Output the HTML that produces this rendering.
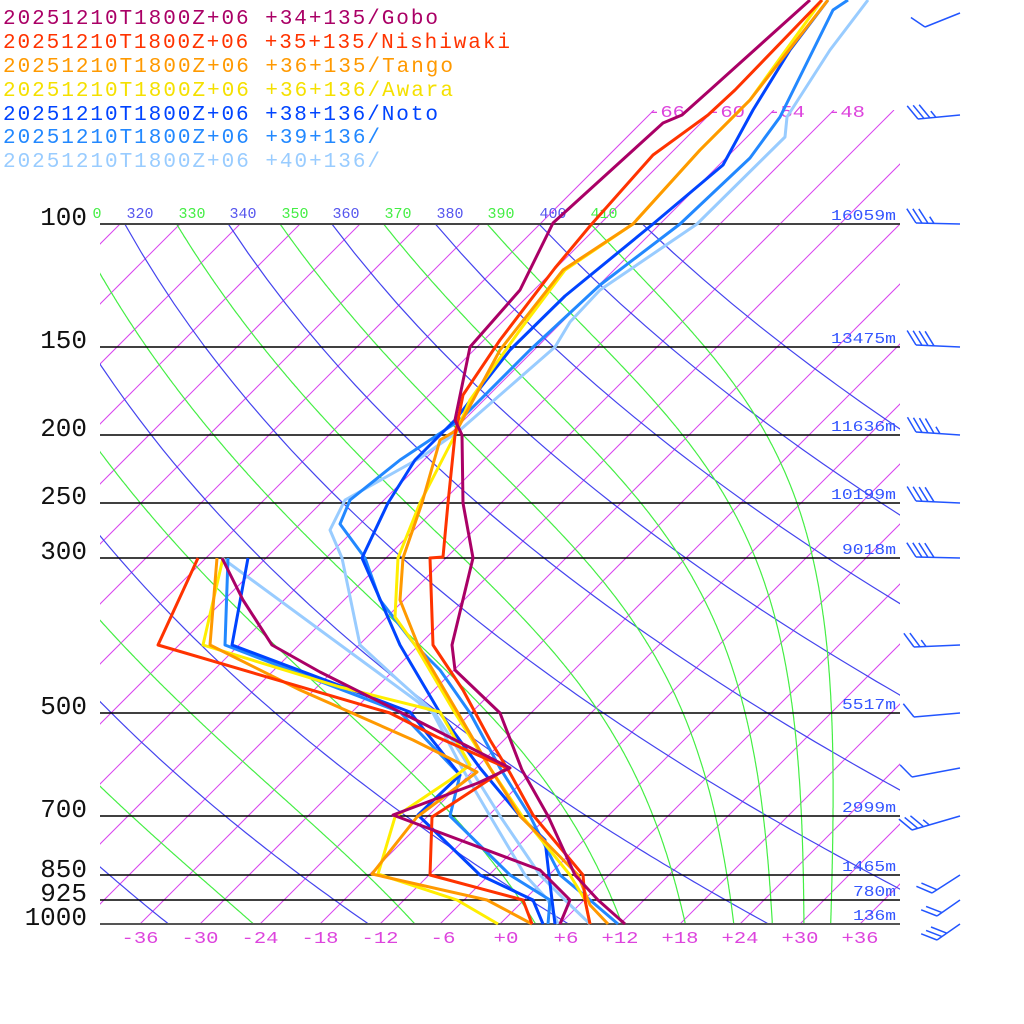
<!DOCTYPE html>
<html><head><meta charset="utf-8"><style>
html,body{margin:0;padding:0;background:#fff}
svg{display:block}
.mono{font-family:"Liberation Mono","DejaVu Sans Mono",monospace}
</style></head><body>
<svg id="s" width="1024" height="1024" viewBox="0 0 1024 1024" xmlns="http://www.w3.org/2000/svg">
<defs>
<clipPath id="c1"><rect x="100" y="224" width="800" height="700"/></clipPath>
<clipPath id="c2"><rect x="100" y="110" width="800" height="114"/></clipPath>
</defs>
<g id="iso" clip-path="url(#c1)" stroke="#d844ee" stroke-width="1" fill="none"></g>
<g id="isoU" clip-path="url(#c2)" stroke="#d844ee" stroke-width="1" fill="none"></g>
<g id="dry" clip-path="url(#c1)" stroke="#4444ee" stroke-width="1.2" fill="none"></g>
<g id="moist" clip-path="url(#c1)" stroke="#44ee44" stroke-width="1.2" fill="none"></g>
<g stroke="#000" stroke-width="1.4">
<line x1="100" y1="224" x2="900" y2="224" stroke="#444" stroke-width="2"/>
<line x1="100" y1="347" x2="900" y2="347"/>
<line x1="100" y1="435" x2="900" y2="435"/>
<line x1="100" y1="503" x2="900" y2="503"/>
<line x1="100" y1="558" x2="900" y2="558"/>
<line x1="100" y1="713" x2="900" y2="713"/>
<line x1="100" y1="816" x2="900" y2="816"/>
<line x1="100" y1="875" x2="900" y2="875"/>
<line x1="100" y1="900" x2="900" y2="900"/>
<line x1="100" y1="924" x2="900" y2="924" stroke="#555" stroke-width="2"/>
</g>
<g class="mono" font-size="26" fill="#111" text-anchor="end">
<text x="87" y="225">100</text><text x="87" y="348">150</text><text x="87" y="436">200</text>
<text x="87" y="504">250</text><text x="87" y="559">300</text><text x="87" y="714">500</text>
<text x="87" y="817">700</text><text x="87" y="877">850</text><text x="87" y="901">925</text>
<text x="87" y="925">1000</text>
</g>
<g class="mono" font-size="15" fill="#3355ff" text-anchor="end" lengthAdjust="spacingAndGlyphs">
<text x="896" y="220" textLength="65" lengthAdjust="spacingAndGlyphs">16059m</text><text x="896" y="343" textLength="65" lengthAdjust="spacingAndGlyphs">13475m</text><text x="896" y="431" textLength="65" lengthAdjust="spacingAndGlyphs">11636m</text>
<text x="896" y="499" textLength="65" lengthAdjust="spacingAndGlyphs">10199m</text><text x="896" y="554" textLength="54" lengthAdjust="spacingAndGlyphs">9018m</text><text x="896" y="709" textLength="54" lengthAdjust="spacingAndGlyphs">5517m</text>
<text x="896" y="812" textLength="54" lengthAdjust="spacingAndGlyphs">2999m</text><text x="896" y="871" textLength="54" lengthAdjust="spacingAndGlyphs">1465m</text><text x="896" y="896" textLength="43" lengthAdjust="spacingAndGlyphs">780m</text>
<text x="896" y="920" textLength="43" lengthAdjust="spacingAndGlyphs">136m</text>
</g>
<g class="mono" font-size="15" text-anchor="middle">
<text x="97" y="218" fill="#44ee44">0</text>
<text x="140" y="218" fill="#5555ee">320</text><text x="192" y="218" fill="#44ee44">330</text>
<text x="243" y="218" fill="#5555ee">340</text><text x="295" y="218" fill="#44ee44">350</text>
<text x="346" y="218" fill="#5555ee">360</text><text x="398" y="218" fill="#44ee44">370</text>
<text x="450" y="218" fill="#5555ee">380</text><text x="501" y="218" fill="#44ee44">390</text>
<text x="553" y="218" fill="#5555ee">400</text><text x="604" y="218" fill="#44ee44">410</text>
</g>
<g class="mono" font-size="17" fill="#dd44dd">
<text x="648" y="117" textLength="37" lengthAdjust="spacingAndGlyphs">-66</text><text x="708" y="117" textLength="37" lengthAdjust="spacingAndGlyphs">-60</text><text x="768" y="117" textLength="37" lengthAdjust="spacingAndGlyphs">-54</text><text x="828" y="117" textLength="37" lengthAdjust="spacingAndGlyphs">-48</text>
</g>
<g class="mono" font-size="17" fill="#dd44dd" text-anchor="middle">
<text x="140" y="943" textLength="37" lengthAdjust="spacingAndGlyphs">-36</text><text x="200" y="943" textLength="37" lengthAdjust="spacingAndGlyphs">-30</text><text x="260" y="943" textLength="37" lengthAdjust="spacingAndGlyphs">-24</text>
<text x="320" y="943" textLength="37" lengthAdjust="spacingAndGlyphs">-18</text><text x="380" y="943" textLength="37" lengthAdjust="spacingAndGlyphs">-12</text><text x="443" y="943" textLength="25" lengthAdjust="spacingAndGlyphs">-6</text>
<text x="506" y="943" textLength="25" lengthAdjust="spacingAndGlyphs">+0</text><text x="566" y="943" textLength="25" lengthAdjust="spacingAndGlyphs">+6</text><text x="620" y="943" textLength="37" lengthAdjust="spacingAndGlyphs">+12</text>
<text x="680" y="943" textLength="37" lengthAdjust="spacingAndGlyphs">+18</text><text x="740" y="943" textLength="37" lengthAdjust="spacingAndGlyphs">+24</text><text x="800" y="943" textLength="37" lengthAdjust="spacingAndGlyphs">+30</text>
<text x="860" y="943" textLength="37" lengthAdjust="spacingAndGlyphs">+36</text>
</g>
<g fill="none" stroke-width="3" stroke-linejoin="round">
<polyline stroke="#99ccff" points="590,924 565,900 540,875 500,816 470,768 435,713 398,680 360,645 342,558 330,530 345,500 420,458 460,430 555,347 570,322 600,290 697,224 785,137 787,117 830,50 868,0"/>
<polyline stroke="#99ccff" points="558,924 548,900 525,875 490,816 462,768 433,713 222,558"/>
<polyline stroke="#2288ff" points="618,924 590,900 560,875 530,816 500,768 470,713 440,670 415,645 380,600 365,558 340,524 350,500 400,460 460,420 530,350 600,285 680,224 750,158 780,117 833,10 848,0"/>
<polyline stroke="#2288ff" points="548,924 550,900 510,875 450,816 460,775 400,712 225,645 228,558"/>
<polyline stroke="#0044ff" points="555,924 552,900 549,875 545,840 520,816 480,768 440,713 400,645 362,558 388,503 415,460 455,420 510,350 565,296 653,224 723,165 753,110 790,50 828,0"/>
<polyline stroke="#0044ff" points="543,924 533,900 480,875 418,815 460,775 410,712 232,645 248,558"/>
<polyline stroke="#ffee00" points="590,924 585,900 570,875 522,816 490,768 455,713 415,645 395,617 398,558 420,503 455,435 470,400 520,330 565,270 633,224 700,150 750,100 822,0"/>
<polyline stroke="#ffee00" points="498,924 457,900 378,874 395,817 450,780 470,765 440,712 340,687 203,645 223,558"/>
<polyline stroke="#ff9900" points="608,924 590,905 578,875 520,816 490,768 458,713 418,645 400,600 403,558 422,503 440,440 457,430 500,350 563,270 633,224 700,150 750,100 828,0"/>
<polyline stroke="#ff9900" points="532,924 487,900 372,874 417,817 477,772 413,740 300,690 210,645 217,558"/>
<polyline stroke="#ff3300" points="590,924 585,900 583,875 533,815 510,773 490,740 463,690 433,645 430,558 443,557 448,503 455,435 463,395 500,340 555,268 590,226 653,155 708,115 735,90 822,0"/>
<polyline stroke="#ff3300" points="532,924 523,900 430,875 432,817 507,768 437,737 390,713 158,645 198,558"/>
<polyline stroke="#aa0066" points="625,924 598,900 575,875 548,816 522,770 500,713 455,670 452,645 473,558 463,503 462,435 455,420 470,347 520,290 553,223 663,123 682,115 710,90 810,0"/>
<polyline stroke="#aa0066" points="560,924 570,900 540,870 393,815 478,783 510,768 420,722 320,672 272,645 243,600 222,558"/>
</g>
<g id="barbs" stroke="#2255ff" stroke-width="1.5" fill="none"></g>
<g class="mono" font-size="21">
<text x="3" y="24" fill="#aa0066" textLength="435">20251210T1800Z+06 +34+135/Gobo</text>
<text x="3" y="48" fill="#ff3300" textLength="507">20251210T1800Z+06 +35+135/Nishiwaki</text>
<text x="3" y="72" fill="#ff9900" textLength="450">20251210T1800Z+06 +36+135/Tango</text>
<text x="3" y="96" fill="#f5e000" textLength="450">20251210T1800Z+06 +36+136/Awara</text>
<text x="3" y="120" fill="#0044ff" textLength="435">20251210T1800Z+06 +38+136/Noto</text>
<text x="3" y="143" fill="#2288ff" textLength="377">20251210T1800Z+06 +39+136/</text>
<text x="3" y="167" fill="#99ccff" textLength="377">20251210T1800Z+06 +40+136/</text>
</g>
</svg>
<script>
(function(){
var NS="http://www.w3.org/2000/svg";
function Y(p){return 924-304*Math.log(1000/p);}
function X(T,y){return 500+10*T+(924-y);}
function pl(g,pts){var e=document.createElementNS(NS,"polyline");e.setAttribute("points",pts.map(function(a){return a[0].toFixed(1)+","+a[1].toFixed(1)}).join(" "));document.getElementById(g).appendChild(e);}
function ln(g,x1,y1,x2,y2){var e=document.createElementNS(NS,"line");e.setAttribute("x1",x1);e.setAttribute("y1",y1);e.setAttribute("x2",x2);e.setAttribute("y2",y2);document.getElementById(g).appendChild(e);}
for(var T=-120;T<=42;T+=6){ln("iso",X(T,924),924,X(T,224),224);}
for(var T=-66;T<=-30;T+=6){ln("isoU",X(T,224),224,X(T,110),110);}
for(var th=220;th<=420;th+=20){var pts=[];for(var p=100;p<=1000;p+=10){var y=Y(p);pts.push([X(th*Math.pow(p/1000,0.286)-273.15,y),y]);}pl("dry",pts);}
var Rd=287,cp=1004,Lv=2.5e6,eps=0.622;
function rs(T,p){var c=T-273.15;var es=6.112*Math.exp(17.67*c/(c+243.5));return eps*es/(p-es);}
for(var L=210;L<=410;L+=20){var T=L*Math.pow(0.1,0.286);var lp=Math.log(100),n=450,d=(Math.log(1000)-lp)/n;var pts=[];
for(var i=0;i<=n;i++){var p=Math.exp(lp);var y=Y(p);pts.push([X(T-273.15,y),y]);var r=rs(T,p);var g=(Rd*T+Lv*r)/(cp+Lv*Lv*r*eps/(Rd*T*T));T+=g*d;lp+=d;}
pl("moist",pts);}
var B=[[13,925,27,1,0],[115,918,119,3,1],[224,916,223,3,1],[347,916,345,4,0],[435,916,432,4,1],[503,916,501,4,0],[558,916,557,4,0],[645,914,647,2,1],[713,914,717,1,0],[768,912,777,1,0],[816,912,830,3,1],[875,932,893,2,0],[900,937,916,2,0],[924,937,940,3,0]];
B.forEach(function(b){var tx=960,ty=b[0],fx=b[1],fy=b[2];ln("barbs",tx,ty,fx,fy);
var vx=fx-tx,vy=fy-ty,l=Math.sqrt(vx*vx+vy*vy);vx/=l;vy/=l;var a=56*Math.PI/180;
var bx=vx*Math.cos(a)-vy*Math.sin(a),by=vx*Math.sin(a)+vy*Math.cos(a);
var k=0;for(var i=0;i<b[3];i++,k++){var px=fx-vx*k*6,py=fy-vy*k*6;ln("barbs",px,py,px+bx*17,py+by*17);}
for(var j=0;j<b[4];j++,k++){var px=fx-vx*k*6,py=fy-vy*k*6;ln("barbs",px,py,px+bx*8,py+by*8);}
});
})();
</script>
</body></html>
